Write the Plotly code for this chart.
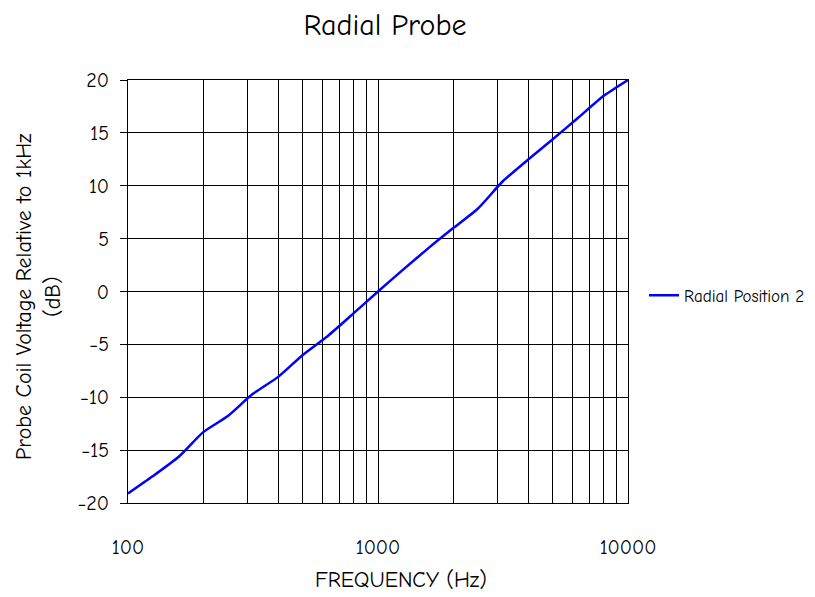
import plotly.graph_objects as go

freq_hz = [100, 125, 160, 200, 250, 315, 400, 500, 630, 800, 1000,
           1250, 1600, 2000, 2500, 3150, 4000, 5000, 6300, 8000, 10000]
radial_pos2_db = [-19.1, -17.5, -15.6, -13.3, -11.8, -9.7, -8.05, -6.0, -4.2, -2.05, 0.0,
                  2.0, 4.15, 6.0, 7.8, 10.4, 12.5, 14.4, 16.4, 18.5, 20.0]
x_major = [100, 1000, 10000]
x_minor = [200, 300, 400, 500, 600, 700, 800, 900,
           2000, 3000, 4000, 5000, 6000, 7000, 8000, 9000]
y_ticks = [-20, -15, -10, -5, 0, 5, 10, 15, 20]

FONT = "Comic Sans MS, Comic Neue, DejaVu Sans, sans-serif"

fig = go.Figure()
fig.add_trace(go.Scatter(
    x=freq_hz, y=radial_pos2_db, mode="lines", name="Radial Position 2",
    line=dict(color="#0000ff", width=2.5, shape="spline", smoothing=0.6),
))

# page body has an 8px margin, so the figure is 8px smaller and margins shifted
W, H = 807, 589
L, R, T, B = 120, 187, 72, 94
PW, PH = W - L - R, H - T - B

fig.update_layout(
    width=W, height=H,
    margin=dict(l=L, r=R, t=T, b=B, autoexpand=False),
    paper_bgcolor="white", plot_bgcolor="white",
    font=dict(family=FONT, color="black"),
    title=dict(text="Radial Probe", x=377/W, xanchor="center", y=1 - 16/H, yanchor="middle",
               font=dict(size=30, family=FONT, color="black")),
    showlegend=True,
    legend=dict(x=1.032, xanchor="left", y=0.49, yanchor="middle",
                font=dict(size=17, family=FONT), bgcolor="rgba(0,0,0,0)"),
    xaxis=dict(
        type="log", range=[2, 4], tickmode="array", tickvals=x_major,
        ticktext=[str(v) for v in x_major],
        showgrid=True, gridcolor="black", gridwidth=1,
        minor=dict(tickmode="array", tickvals=x_minor, showgrid=True, gridcolor="black", gridwidth=1, ticks=""),
        showline=True, linecolor="black", linewidth=1, mirror=True,
        ticks="", ticklabelstandoff=26,
        tickfont=dict(size=20, family=FONT),
        zeroline=False,
    ),
    yaxis=dict(
        range=[-20, 20], tickmode="array", tickvals=y_ticks,
        showgrid=True, gridcolor="black", gridwidth=1,
        showline=True, linecolor="black", linewidth=1, mirror=True,
        ticks="outside", ticklen=7, tickcolor="black", ticklabelstandoff=7,
        tickfont=dict(size=20, family=FONT),
        zeroline=False,
    ),
    annotations=[
        dict(text="FREQUENCY (Hz)", xref="paper", yref="paper",
             x=(401 - 8 - L) / PW, y=-(580 - 503) / PH, xanchor="center", yanchor="middle",
             showarrow=False, font=dict(size=22, family=FONT, color="black")),
        dict(text="Probe Coil Voltage Relative to 1kHz<br>(dB)", xref="paper", yref="paper",
             x=-(128 - 38) / PW, y=(503 - 297) / PH, xanchor="center", yanchor="middle",
             textangle=-90, showarrow=False, font=dict(size=22, family=FONT, color="black")),
    ],
)

fig.write_html("out.html")
